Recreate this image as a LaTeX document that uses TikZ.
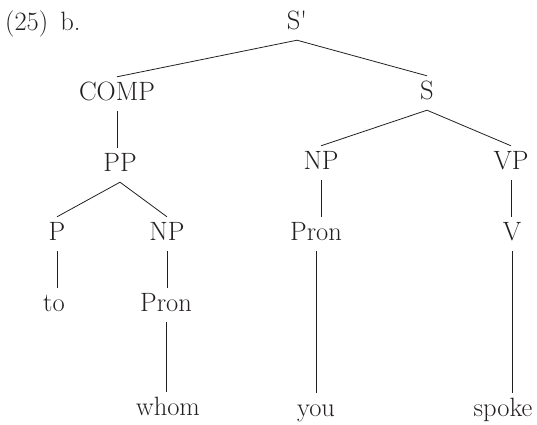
\documentclass[tikz,border=0pt]{standalone}
\usepackage{fontspec}
\usepackage{tikz}
\definecolor{ink}{RGB}{35, 31, 32}
\tikzset{
  cat/.style={anchor=base, inner xsep=0pt, inner ysep=5pt, text height=18pt,
    text depth=6pt, text=ink, font=\fontsize{26.5}{32}\selectfont},
  branch/.style={draw=ink, line width=0.8pt}
}

\begin{document}
\begin{tikzpicture}[x=1pt, y=-1pt]

  \useasboundingbox (0, 0) rectangle (537, 424);

  \node[cat, anchor=base west] (ex) at (5, 30) {(25)\hspace{12pt}b.};

  % top levels
  \node[cat] (Sbar) at (297, 29) {S\textquotesingle};
  \node[cat] (comp) at (117, 100) {COMP};
  \node[cat] (S) at (427, 99) {S};
  \node[cat] (PP) at (120, 171) {PP};
  \node[cat] (NPs) at (321, 169) {NP};
  \node[cat] (VP) at (511, 169) {VP};

  % lower levels
  \node[cat] (P) at (57, 240) {P};
  \node[cat] (NPo) at (167, 240) {NP};
  \node[cat] (pronS) at (316, 240) {Pron};
  \node[cat] (V) at (512, 240) {V};
  \node[cat] (to) at (54, 311) {to};
  \node[cat] (pronO) at (166, 311) {Pron};

  % words
  \node[cat] (whom) at (168, 415) {whom};
  \node[cat] (you) at (316, 416) {you};
  \node[cat] (spoke) at (503, 416) {spoke};

  \draw[branch] (comp.north) -- (Sbar.south) -- (S.north);
  \draw[branch] (NPs.north) -- (S.south) -- (VP.north);
  \draw[branch] (P.north) -- (PP.south) -- (NPo.north);

  \draw[branch] (comp.south) -- (comp.south |- PP.north);
  \draw[branch] (NPs.south) -- (NPs.south |- pronS.north);
  \draw[branch] (VP.south) -- (VP.south |- V.north);
  \draw[branch] (P.south) -- (P.south |- to.north);
  \draw[branch] (NPo.south) -- (NPo.south |- pronO.north);
  \draw[branch] (pronO.south) -- (pronO.south |- whom.north);
  \draw[branch] (pronS.south) -- (pronS.south |- you.north);
  \draw[branch] (V.south) -- (V.south |- spoke.north);

\end{tikzpicture}
\end{document}
